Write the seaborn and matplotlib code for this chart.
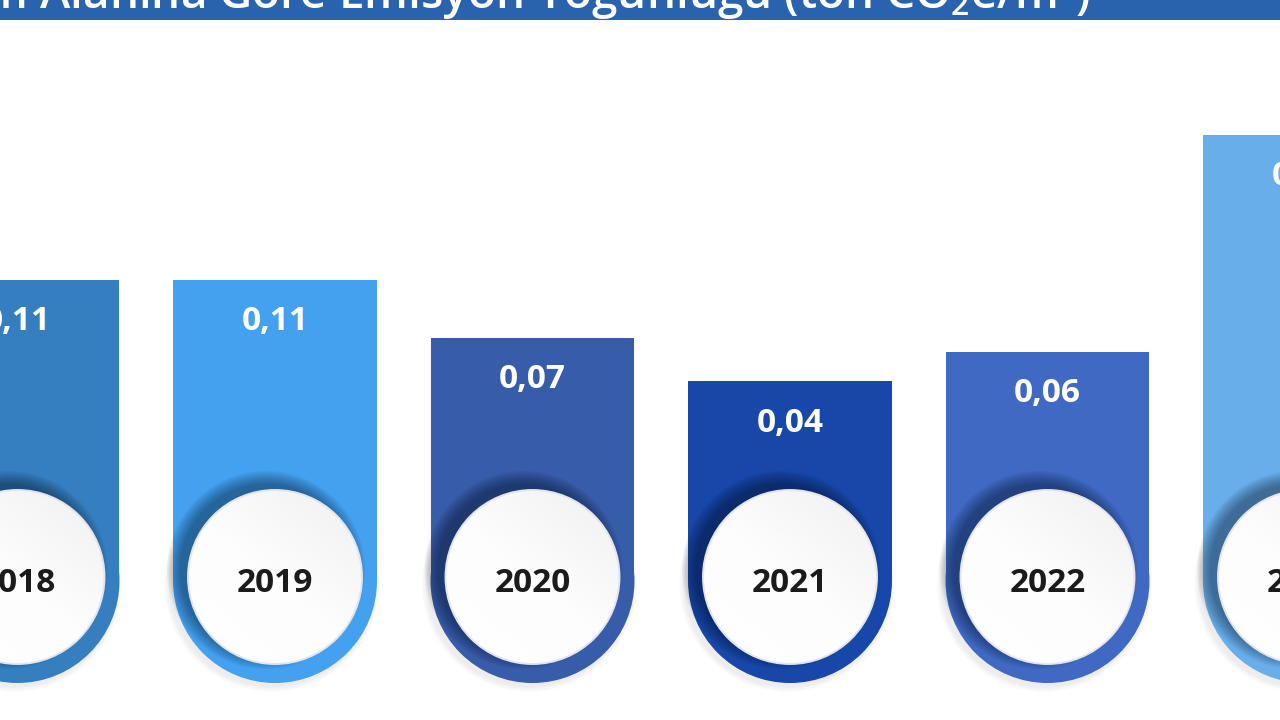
import numpy as np
import pandas as pd
import matplotlib
matplotlib.use("Agg")
import matplotlib.pyplot as plt
import seaborn as sns
from matplotlib.patches import Rectangle, Ellipse
from matplotlib.colors import LinearSegmentedColormap

# ---- data ----
years = ["2018", "2019", "2020", "2021", "2022", "2023"]
values = [0.11, 0.11, 0.07, 0.04, 0.06, 0.21]
value_labels = ["0,11", "0,11", "0,07", "0,04", "0,06", "0,21"]
bar_colors = ["#357fc0", "#43a1f0", "#375ca9", "#1747a8", "#3f69c3", "#68aeea"]
title = "Kullanım Alanına Göre Emisyon Yoğunluğu (ton CO$_2$e/m²)"

sns.set_theme(style="white")
plt.rcParams["font.family"] = ["Open Sans", "DejaVu Sans"]
plt.rcParams["mathtext.fontset"] = "custom"
plt.rcParams["mathtext.rm"] = "Open Sans:semibold"
plt.rcParams["mathtext.it"] = "Open Sans:semibold"

W, H = 1280, 720
fig = plt.figure(figsize=(12.8, 7.2), dpi=100)
fig.patch.set_facecolor("white")
ax = fig.add_axes([0, 0, 1, 1])

df = pd.DataFrame({"year": years, "value": values})
sns.barplot(data=df, x="year", y="value", hue="year", palette=bar_colors,
            legend=False, width=0.792, saturation=1, linewidth=0, ax=ax, zorder=2)
bars = list(ax.patches)

# pixel scale of the layout
px_x = 257.5   # pixels per category
px_y = 1450.0  # pixels per unit of value
x_lo, x_hi = -17.5 / px_x, (W - 17.5) / px_x
y_lo, y_hi = -281 / px_y, (H - 281) / px_y

cy_bar = (139 - 281) / px_y     # centre of rounded bottom
cy_circ = (143 - 281) / px_y    # centre of white disc
r_bar = 102
r_c = 87

gy = np.linspace(1, 0, 120)[:, None]
gx = np.linspace(0, 1, 120)[None, :]
grad = np.clip(0.55 * gy + 0.45 * gx, 0, 1)
cmap = LinearSegmentedColormap.from_list("disc", ["#ffffff", "#fdfdfd", "#f0f0f0"])

for p, c, lab, yr, v in zip(bars, bar_colors, value_labels, years, values):
    w = p.get_width()
    x0 = p.get_x()
    xc = x0 + w / 2
    # extend the bar body down to the centre of its rounded foot
    p.set_y(cy_bar)
    p.set_height(v - cy_bar)
    p.set_edgecolor("none")
    # soft ground shadow under the bar
    for k in range(6):
        ax.add_patch(Ellipse((xc - 3 / px_x, cy_bar - 3 / px_y), w + (12 - 2 * k) / px_x,
                             2 * (r_bar + 6 - k) / px_y,
                             color="black", alpha=0.012, lw=0, zorder=1))
    # rounded bottom
    ax.add_patch(Ellipse((xc, cy_bar), w, 2 * r_bar / px_y, color=c, lw=0, zorder=2.1))
    # disc shadow (towards upper-left)
    for k in range(9):
        rr = r_c + 12 - k * 1.6
        ax.add_patch(Ellipse((xc - 9 / px_x, cy_circ + 7 / px_y), 2 * rr / px_x, 2 * rr / px_y,
                             color="#000818", alpha=0.05, lw=0, zorder=3))
    disc = Ellipse((xc, cy_circ), 2 * r_c / px_x, 2 * r_c / px_y,
                   facecolor="white", edgecolor="none", zorder=4)
    ax.add_patch(disc)
    im = ax.imshow(grad, extent=[xc - r_c / px_x, xc + r_c / px_x,
                                 cy_circ - r_c / px_y, cy_circ + r_c / px_y],
                   cmap=cmap, vmin=0, vmax=1, aspect="auto", origin="upper", zorder=4.5)
    im.set_clip_path(disc)
    ax.add_patch(Ellipse((xc, cy_circ), 2 * r_c / px_x, 2 * r_c / px_y,
                         facecolor="none", edgecolor="#e2e5eb", lw=1.4, zorder=4.6))
    # labels
    ax.annotate(lab, (xc, v), xytext=(0, -42 * 0.72), textcoords="offset points",
                ha="center", va="center", color="white", fontsize=24,
                fontweight="bold", zorder=6, annotation_clip=False)
    ax.annotate(yr, (xc, cy_bar), xytext=(0, -3 * 0.72), textcoords="offset points",
                ha="center", va="center", color="#1b1b1b",
                fontsize=24, fontweight="bold", zorder=6, annotation_clip=False)

ax.set_xlim(x_lo, x_hi)
ax.set_ylim(y_lo, y_hi)
ax.axis("off")

# title band
ax.add_patch(Rectangle((0, 1 - 20 / H), 1, 20 / H, transform=ax.transAxes,
                       color="#2a63ad", lw=0, zorder=7))
fig.text(1090 / W, 1 - 8 / H, title, ha="right", va="baseline", color="white",
         fontsize=33, fontweight="semibold", zorder=8)

fig.savefig("out.png", dpi=100)
